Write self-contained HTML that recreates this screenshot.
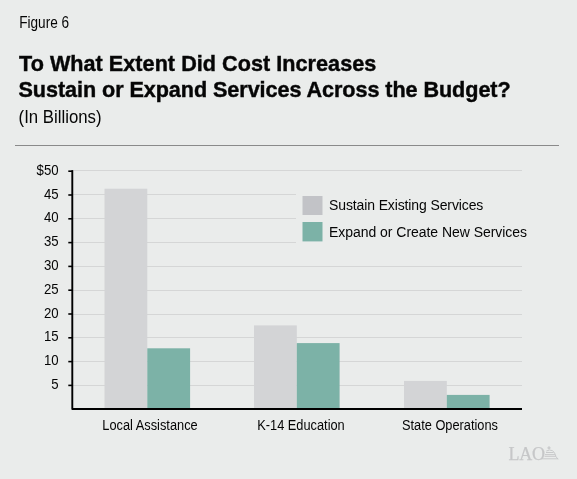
<!DOCTYPE html>
<html><head><meta charset="utf-8">
<style>
html,body{margin:0;padding:0;}
body{filter:grayscale(0);width:577px;height:479px;background:#eaeceb;position:relative;overflow:hidden;font-family:"Liberation Sans",sans-serif;color:#050505;}
.t{position:absolute;white-space:nowrap;line-height:1;transform-origin:0 0;}
#fig{left:19.2px;top:15px;font-size:13.6px;transform:scaleY(1.15);}
#h1{left:19px;top:52.4px;-webkit-text-stroke:0.45px #111;font-size:21.6px;font-weight:bold;letter-spacing:0.04px;transform:scaleY(1.05);}
#h2{left:18.5px;top:77.5px;-webkit-text-stroke:0.45px #111;font-size:21.6px;font-weight:bold;letter-spacing:-0.06px;transform:scaleY(1.05);}
#sub{left:18.6px;top:108.6px;font-size:16.8px;transform:scaleY(1.06);}
#rule{position:absolute;left:15px;top:145px;width:544px;height:1px;background:#8a8a8a;}
.ylab{position:absolute;right:518.4px;font-size:13.2px;line-height:1;white-space:nowrap;transform-origin:100% 50%;transform:scaleY(1.12);}
.xlab{position:absolute;font-size:12.8px;line-height:1;white-space:nowrap;text-align:center;width:150px;transform-origin:50% 0;transform:scaleY(1.16);}
.leg{position:absolute;font-size:14px;line-height:1;white-space:nowrap;transform-origin:0 0;transform:scaleY(1.1);}
</style></head><body>
<div class="t" id="fig">Figure 6</div>
<div class="t" id="h1">To What Extent Did Cost Increases</div>
<div class="t" id="h2">Sustain or Expand Services Across the Budget?</div>
<div class="t" id="sub">(In Billions)</div>
<div id="rule"></div>

<svg width="577" height="479" style="position:absolute;left:0;top:0">
  <g stroke="#d5d6d6" stroke-width="1">
    <line x1="73" y1="385.5" x2="522" y2="385.5"/>
    <line x1="73" y1="361.5" x2="522" y2="361.5"/>
    <line x1="73" y1="337.5" x2="522" y2="337.5"/>
    <line x1="73" y1="314.5" x2="522" y2="314.5"/>
    <line x1="73" y1="290.5" x2="522" y2="290.5"/>
    <line x1="73" y1="266.5" x2="522" y2="266.5"/>
    <line x1="73" y1="242.5" x2="522" y2="242.5"/>
    <line x1="73" y1="218.5" x2="522" y2="218.5"/>
    <line x1="73" y1="194.5" x2="522" y2="194.5"/>
    <line x1="73" y1="170.5" x2="522" y2="170.5"/>
  </g>
  <rect x="296" y="188" width="240" height="58" fill="#eaeceb"/>
  <!-- bars -->
  <rect x="104.5" y="188.7" width="42.8" height="220.5" fill="#d3d4d6"/>
  <rect x="147.3" y="348.3" width="42.8" height="60.9" fill="#7cb2a7"/>
  <rect x="254" y="325.4" width="42.8" height="83.8" fill="#d3d4d6"/>
  <rect x="296.8" y="343.1" width="42.8" height="66.1" fill="#7cb2a7"/>
  <rect x="404" y="380.9" width="42.8" height="28.3" fill="#d3d4d6"/>
  <rect x="446.8" y="394.9" width="42.8" height="14.3" fill="#7cb2a7"/>
  <!-- axes -->
  <g stroke="#000" stroke-width="1.6">
    <line x1="68.3" y1="385.4" x2="73" y2="385.4"/>
    <line x1="68.3" y1="361.6" x2="73" y2="361.6"/>
    <line x1="68.3" y1="337.8" x2="73" y2="337.8"/>
    <line x1="68.3" y1="314.0" x2="73" y2="314.0"/>
    <line x1="68.3" y1="290.2" x2="73" y2="290.2"/>
    <line x1="68.3" y1="266.4" x2="73" y2="266.4"/>
    <line x1="68.3" y1="242.6" x2="73" y2="242.6"/>
    <line x1="68.3" y1="218.8" x2="73" y2="218.8"/>
    <line x1="68.3" y1="195.0" x2="73" y2="195.0"/>
    <line x1="68.3" y1="171.2" x2="73" y2="171.2"/>
  </g>
  <path d="M72.3 170.3 L72.3 409 L522 409" fill="none" stroke="#000" stroke-width="1.9" stroke-linejoin="round"/>
  <!-- legend boxes -->
  <rect x="302.5" y="196" width="20" height="19" fill="#c2c3c7"/>
  <rect x="302.5" y="222" width="20" height="19.4" fill="#7cb2a7"/>
  <g stroke="#c8c9ca" fill="none" stroke-width="1">
    <circle cx="549" cy="447.9" r="1.1" fill="#d0d1d2"/>
    <path d="M546.3 451 Q549.5 449.3 552.5 450.6 Q555 452.5 556 456.6 L558 459.3" />
    <line x1="546" y1="452.5" x2="553.5" y2="452.5"/>
    <line x1="545" y1="454.6" x2="555" y2="454.6"/>
    <line x1="544.5" y1="456.3" x2="556" y2="456.3"/>
    <line x1="541.5" y1="458.8" x2="558.2" y2="458.8"/>
  </g>
</svg>

<div class="ylab" id="y50" style="top:162.7px">$50</div>
<div class="ylab" style="top:186.5px">45</div>
<div class="ylab" style="top:210.3px">40</div>
<div class="ylab" style="top:234.1px">35</div>
<div class="ylab" style="top:257.9px">30</div>
<div class="ylab" style="top:281.7px">25</div>
<div class="ylab" style="top:305.5px">20</div>
<div class="ylab" style="top:329.3px">15</div>
<div class="ylab" id="y10" style="top:353.1px">10</div>
<div class="ylab" id="y5" style="top:376.9px">5</div>

<div class="xlab" id="xla" style="left:75px;top:418.2px">Local Assistance</div>
<div class="xlab" id="xk14" style="left:226px;top:418.2px">K-14 Education</div>
<div class="xlab" id="xso" style="left:375px;top:418.2px">State Operations</div>

<div class="leg" id="leg1" style="left:329px;top:196.9px;letter-spacing:-0.12px">Sustain Existing Services</div>
<div class="leg" id="leg2" style="left:329px;top:224px;letter-spacing:-0.04px">Expand or Create New Services</div>

<div class="t" id="lao" style="left:508.5px;top:445.2px;font-family:'Liberation Serif',serif;font-size:18px;color:#c6c7c8;-webkit-text-stroke:0.25px #c6c7c8;letter-spacing:-0.3px">LAO</div>
</body></html>
